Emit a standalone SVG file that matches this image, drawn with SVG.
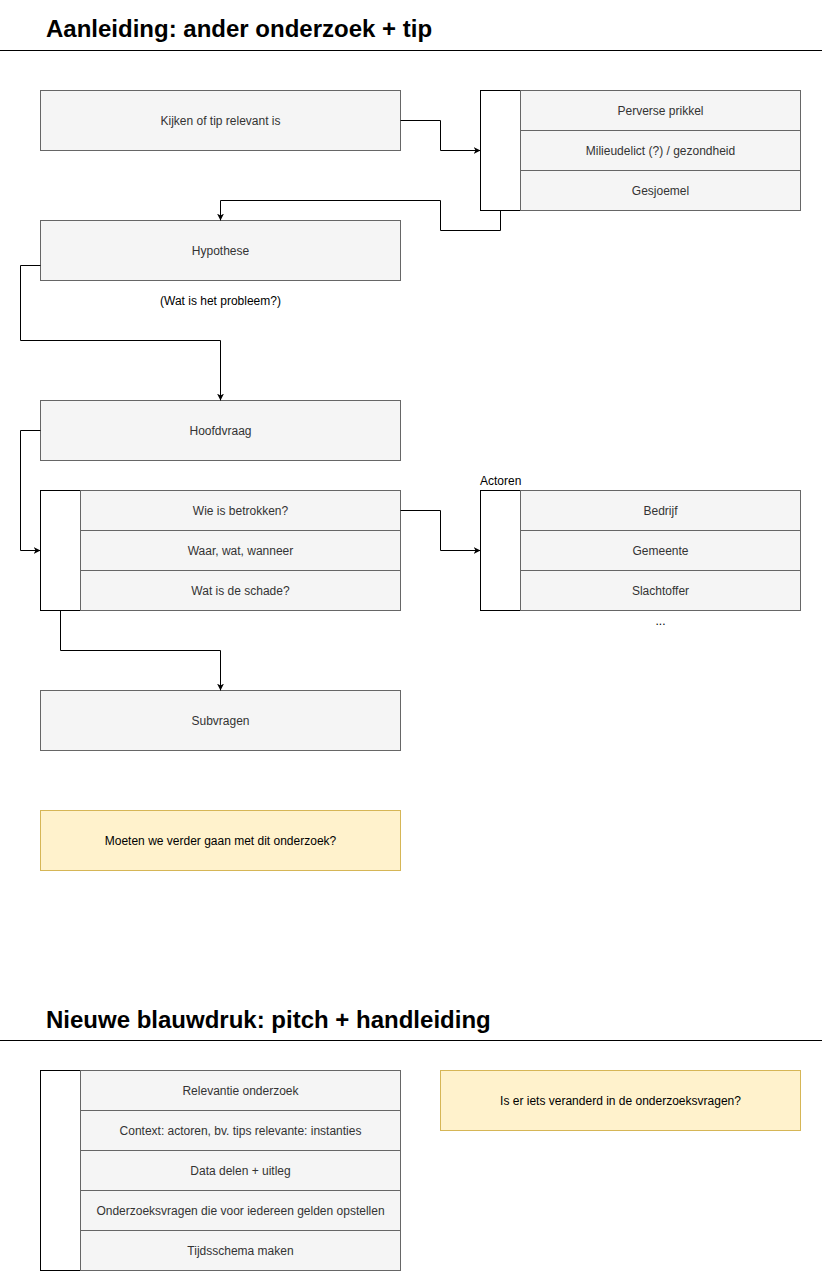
<svg xmlns="http://www.w3.org/2000/svg" width="822" height="1271" viewBox="0 0 822 1271">
<style>
.box{fill:#f5f5f5;stroke:#666666;stroke-width:1}
.col{fill:#ffffff;stroke:#000000;stroke-width:1}
.note{fill:#fff2cc;stroke:#d6b656;stroke-width:1}
.t{font-family:"Liberation Sans",Arial,sans-serif;font-size:12px;fill:#333333;text-anchor:middle;dominant-baseline:central}
.tb{font-family:"Liberation Sans",Arial,sans-serif;font-size:12px;fill:#000000;text-anchor:middle;dominant-baseline:central}
.title{font-family:"Liberation Sans",Arial,sans-serif;font-size:24px;font-weight:bold;fill:#000000}
.edge{fill:none;stroke:#000000;stroke-width:1}
</style>
<defs>
<marker id="arr" viewBox="0 0 10 10" refX="10" refY="5" markerWidth="7" markerHeight="7" markerUnits="userSpaceOnUse" orient="auto">
<path d="M0,0 L10,5 L0,10 L3,5 Z" fill="#000000"/>
</marker>
</defs>
<rect x="0" y="0" width="822" height="1271" fill="#ffffff"/>

<g id="title1">
<text class="title" x="46" y="37">Aanleiding: ander onderzoek + tip</text>
<line x1="0" y1="50.5" x2="822" y2="50.5" stroke="#000000" stroke-width="1"/>
</g>

<g id="kijken">
<rect class="box" x="40.5" y="90.5" width="360" height="60"/>
<text class="t" x="220.5" y="120.5">Kijken of tip relevant is</text>
</g>

<g id="list-tip">
<rect class="col" x="480.5" y="90.5" width="40" height="120"/>
<rect class="box" x="520.5" y="90.5" width="280" height="40"/>
<text class="t" x="660.5" y="110.5">Perverse prikkel</text>
<rect class="box" x="520.5" y="130.5" width="280" height="40"/>
<text class="t" x="660.5" y="150.5">Milieudelict (?) / gezondheid</text>
<rect class="box" x="520.5" y="170.5" width="280" height="40"/>
<text class="t" x="660.5" y="190.5">Gesjoemel</text>
</g>

<g id="hypothese">
<rect class="box" x="40.5" y="220.5" width="360" height="60"/>
<text class="t" x="220.5" y="250.5">Hypothese</text>
</g>

<g id="probleem-label">
<text class="tb" x="220.5" y="300.5">(Wat is het probleem?)</text>
</g>

<g id="hoofdvraag">
<rect class="box" x="40.5" y="400.5" width="360" height="60"/>
<text class="t" x="220.5" y="430.5">Hoofdvraag</text>
</g>

<g id="list-vragen">
<rect class="col" x="40.5" y="490.5" width="40" height="120"/>
<rect class="box" x="80.5" y="490.5" width="320" height="40"/>
<text class="t" x="240.5" y="510.5">Wie is betrokken?</text>
<rect class="box" x="80.5" y="530.5" width="320" height="40"/>
<text class="t" x="240.5" y="550.5">Waar, wat, wanneer</text>
<rect class="box" x="80.5" y="570.5" width="320" height="40"/>
<text class="t" x="240.5" y="590.5">Wat is de schade?</text>
</g>

<g id="list-actoren">
<text class="tb" x="480" y="481" style="text-anchor:start">Actoren</text>
<rect class="col" x="480.5" y="490.5" width="40" height="120"/>
<rect class="box" x="520.5" y="490.5" width="280" height="40"/>
<text class="t" x="660.5" y="510.5">Bedrijf</text>
<rect class="box" x="520.5" y="530.5" width="280" height="40"/>
<text class="t" x="660.5" y="550.5">Gemeente</text>
<rect class="box" x="520.5" y="570.5" width="280" height="40"/>
<text class="t" x="660.5" y="590.5">Slachtoffer</text>
<text class="tb" x="660.5" y="621">...</text>
</g>

<g id="subvragen">
<rect class="box" x="40.5" y="690.5" width="360" height="60"/>
<text class="t" x="220.5" y="720.5">Subvragen</text>
</g>

<g id="verder">
<rect class="note" x="40.5" y="810.5" width="360" height="60"/>
<text class="tb" x="220.5" y="840.5">Moeten we verder gaan met dit onderzoek?</text>
</g>

<g id="title2">
<text class="title" x="46" y="1028">Nieuwe blauwdruk: pitch + handleiding</text>
<line x1="0" y1="1040.5" x2="822" y2="1040.5" stroke="#000000" stroke-width="1"/>
</g>

<g id="list-blauwdruk">
<rect class="col" x="40.5" y="1070.5" width="40" height="200"/>
<rect class="box" x="80.5" y="1070.5" width="320" height="40"/>
<text class="t" x="240.5" y="1090.5">Relevantie onderzoek</text>
<rect class="box" x="80.5" y="1110.5" width="320" height="40"/>
<text class="t" x="240.5" y="1130.5">Context: actoren, bv. tips relevante: instanties</text>
<rect class="box" x="80.5" y="1150.5" width="320" height="40"/>
<text class="t" x="240.5" y="1170.5">Data delen + uitleg</text>
<rect class="box" x="80.5" y="1190.5" width="320" height="40"/>
<text class="t" x="240.5" y="1210.5">Onderzoeksvragen die voor iedereen gelden opstellen</text>
<rect class="box" x="80.5" y="1230.5" width="320" height="40"/>
<text class="t" x="240.5" y="1250.5">Tijdsschema maken</text>
</g>

<g id="veranderd">
<rect class="note" x="440.5" y="1070.5" width="360" height="60"/>
<text class="tb" x="620.5" y="1100.5">Is er iets veranderd in de onderzoeksvragen?</text>
</g>

<g id="connectors">
<path class="edge" d="M400.5,120.5 H440.5 V150.5 H480.5" marker-end="url(#arr)"/>
<path class="edge" d="M500.5,210.5 V230.5 H440.5 V200.5 H220.5 V220.5" marker-end="url(#arr)"/>
<path class="edge" d="M40.5,265.5 H20.5 V340.5 H220.5 V400.5" marker-end="url(#arr)"/>
<path class="edge" d="M40.5,430.5 H20.5 V550.5 H40.5" marker-end="url(#arr)"/>
<path class="edge" d="M400.5,510.5 H440.5 V550.5 H480.5" marker-end="url(#arr)"/>
<path class="edge" d="M60.5,610.5 V650.5 H220.5 V690.5" marker-end="url(#arr)"/>
</g>
</svg>
